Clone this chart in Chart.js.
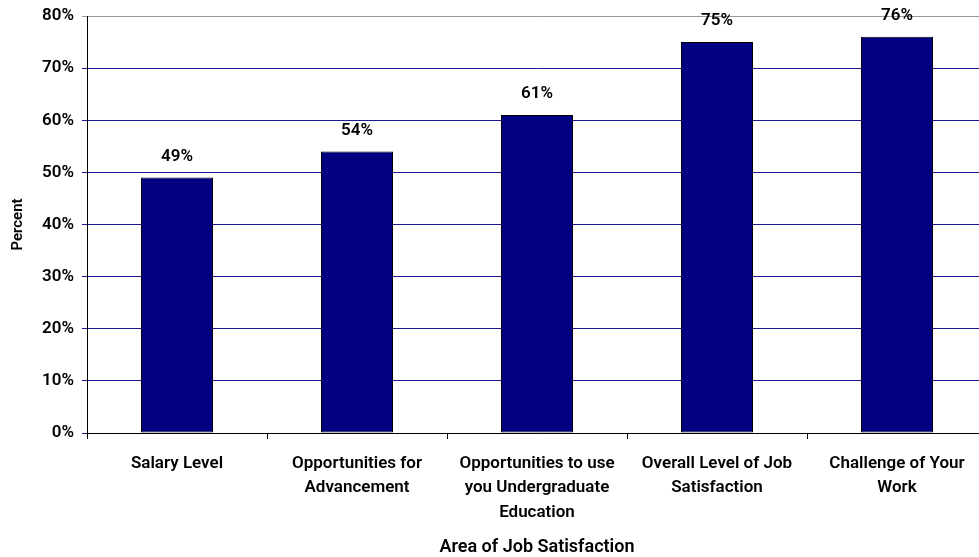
<!DOCTYPE html>
<html>
<head>
<meta charset="utf-8">
<script src="https://cdn.jsdelivr.net/npm/chart.js@4/dist/chart.umd.min.js"></script>
<style>
  html, body { margin: 0; padding: 0; background: #fff; overflow: hidden; }
  #wrap { width: 990px; height: 557px; }
</style>
</head>
<body>
<div id="wrap"><canvas id="jobChart"></canvas></div>
<script>
const areas = [
  ['Salary Level'],
  ['Opportunities for', 'Advancement'],
  ['Opportunities to use', 'you Undergraduate', 'Education'],
  ['Overall Level of Job', 'Satisfaction'],
  ['Challenge of Your', 'Work']
];
const percents = [49, 54, 61, 75, 76];

const font = "Roboto, 'DejaVu Sans', sans-serif";

// value labels above each bar
const barLabels = {
  id: 'barLabels',
  afterDatasetsDraw(chart) {
    const ctx = chart.ctx;
    const meta = chart.getDatasetMeta(0);
    ctx.save();
    ctx.font = '600 17px ' + font;
    ctx.fillStyle = '#000';
    ctx.textAlign = 'center';
    ctx.textBaseline = 'middle';
    meta.data.forEach((bar, i) => {
      ctx.fillText(percents[i] + '%', bar.x, bar.y - 21);
    });
    ctx.restore();
  }
};

const cfg = {
  type: 'bar',
  data: {
    labels: areas,
    datasets: [{
      data: percents,
      backgroundColor: '#000080',
      borderColor: '#000',
      borderWidth: 1,
      borderSkipped: false,
      categoryPercentage: 0.4,
      barPercentage: 1
    }]
  },
  options: {
    responsive: true,
    maintainAspectRatio: false,
    animation: false,
    layout: { padding: { top: 16, right: 3, left: 0, bottom: 0 } },
    plugins: {
      legend: { display: false },
      tooltip: { enabled: false }
    },
    scales: {
      x: {
        afterFit: s => { s.height = 124; },
        grid: {
          offset: true,
          drawOnChartArea: false,
          tickLength: 6,
          color: '#000'
        },
        border: { color: '#000' },
        ticks: {
          color: '#000',
          font: { family: font, size: 17, weight: '600', lineHeight: 1.42 },
          padding: 13,
          maxRotation: 0
        },
        title: {
          display: true,
          text: 'Area of Job Satisfaction',
          color: '#000',
          font: { family: font, size: 18, weight: '600' },
          padding: { top: 0, bottom: -1 }
        }
      },
      y: {
        min: 0,
        max: 80,
        afterFit: s => {
          s.width = 87;
          s.paddingTop = 0;
          s.paddingBottom = 0;
        },
        grid: {
          color: ctx => ctx.tick && ctx.tick.value === 80 ? '#999' : '#1a1a99',
          tickLength: 5
        },
        border: { color: '#000' },
        ticks: {
          stepSize: 10,
          color: '#000',
          padding: 8,
          font: { family: font, size: 17, weight: '600' },
          callback: v => v + '%'
        },
        title: {
          display: true,
          text: 'Percent',
          color: '#000',
          font: { family: font, size: 15, weight: '600' },
          padding: { top: 9, bottom: 0 }
        }
      }
    }
  },
  plugins: [barLabels]
};

const jobChart = new Chart(document.getElementById('jobChart'), cfg);
</script>
</body>
</html>
